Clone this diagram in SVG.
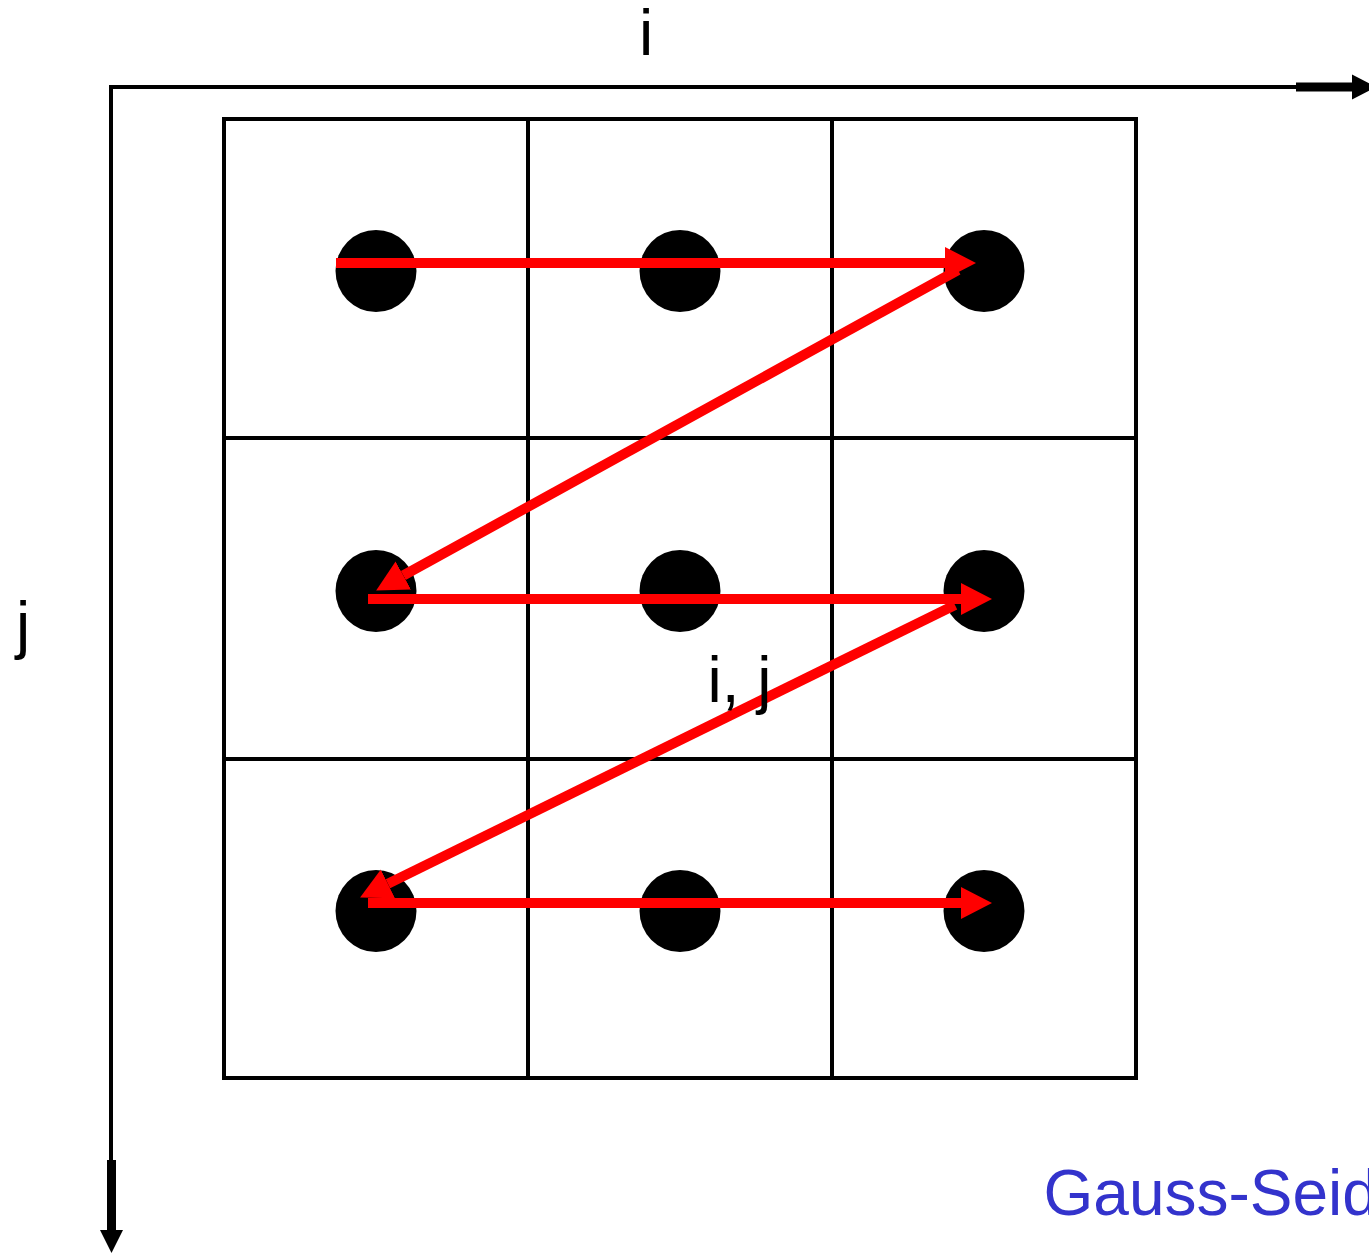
<svg xmlns="http://www.w3.org/2000/svg" width="1369" height="1253" viewBox="0 0 1369 1253">
<style>
.grid{fill:none;stroke:#000;stroke-width:4}
.axis{stroke:#000;stroke-width:4;fill:none}
.axthick{stroke:#000;stroke-width:9}
.dot{fill:#000}
.red{stroke:#ff0000;stroke-width:10;fill:none;marker-end:url(#rh)}
.lbl{font-family:"Liberation Sans",Arial,sans-serif;font-size:64px;fill:#000}
.title{font-family:"Liberation Sans",Arial,sans-serif;font-size:64px;fill:#3333cc}
</style>
<defs>
<marker id="rh" markerUnits="userSpaceOnUse" markerWidth="32" markerHeight="34" refX="0" refY="16" orient="auto" viewBox="0 0 32 32">
<path d="M0,0 L31,16 L0,32 Z" fill="#ff0000"/>
</marker>
</defs>
<g id="axes">
<polyline class="axis" points="1297,87 111,87 111,1162"/>
<line class="axthick" x1="1296" y1="87" x2="1353" y2="87"/>
<polygon points="1352,74.5 1352,99.5 1376,87" fill="#000"/>
<line class="axthick" x1="111.5" y1="1160" x2="111.5" y2="1231"/>
<polygon points="100,1230 123,1230 111.5,1253" fill="#000"/>
</g>
<g id="grid">
<rect class="grid" x="224" y="119" width="912" height="959"/>
<line class="grid" x1="528" y1="119" x2="528" y2="1078"/>
<line class="grid" x1="832" y1="119" x2="832" y2="1078"/>
<line class="grid" x1="224" y1="438" x2="1136" y2="438"/>
<line class="grid" x1="224" y1="759" x2="1136" y2="759"/>
</g>
<g id="nodes">
<g id="n11"><ellipse class="dot" cx="376" cy="271" rx="40.5" ry="41"/></g>
<g id="n21"><ellipse class="dot" cx="680" cy="271" rx="40.5" ry="41"/></g>
<g id="n31"><ellipse class="dot" cx="984" cy="271" rx="40.5" ry="41"/></g>
<g id="n12"><ellipse class="dot" cx="376" cy="591" rx="40.5" ry="41"/></g>
<g id="n22"><ellipse class="dot" cx="680" cy="591" rx="40.5" ry="41"/></g>
<g id="n32"><ellipse class="dot" cx="984" cy="591" rx="40.5" ry="41"/></g>
<g id="n13"><ellipse class="dot" cx="376" cy="911" rx="40.5" ry="41"/></g>
<g id="n23"><ellipse class="dot" cx="680" cy="911" rx="40.5" ry="41"/></g>
<g id="n33"><ellipse class="dot" cx="984" cy="911" rx="40.5" ry="41"/></g>
</g>
<g id="connectors">
<line class="red" x1="336" y1="263" x2="945" y2="263"/>
<line class="red" x1="958" y1="270" x2="403.3" y2="575.5"/>
<line class="red" x1="368" y1="599" x2="961" y2="599"/>
<line class="red" x1="955" y1="605" x2="387.9" y2="883.8"/>
<line class="red" x1="368" y1="903" x2="961" y2="903"/>
</g>
<g id="labels">
<text class="lbl" x="639" y="55">i</text>
<text class="lbl" x="16" y="647">j</text>
<text class="lbl" x="707.5" y="702">i, j</text>
<text class="title" x="1043.5" y="1215">Gauss-Seid</text>
</g>
</svg>
